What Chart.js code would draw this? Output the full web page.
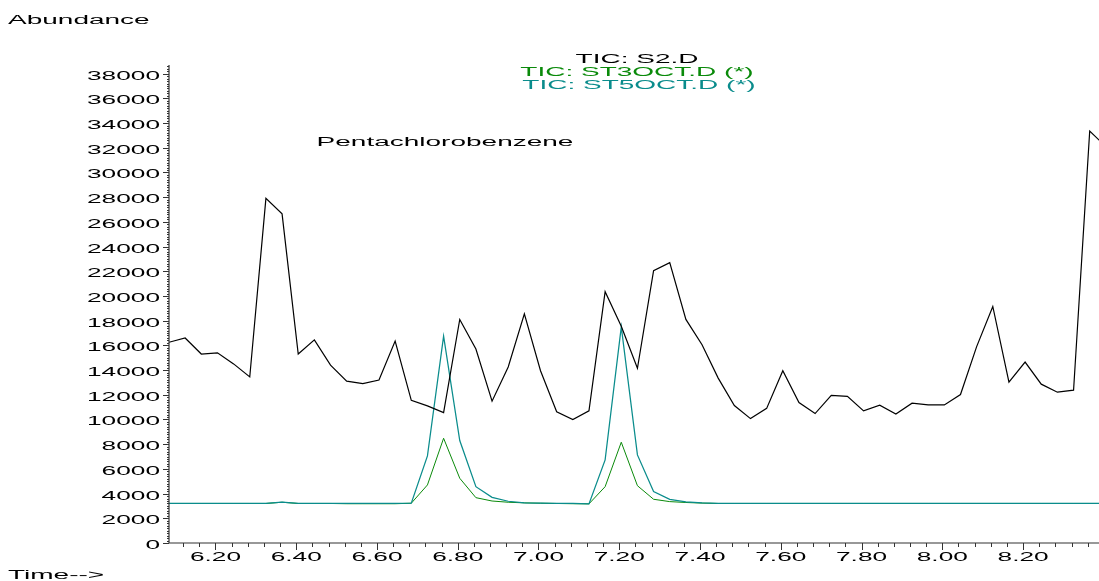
<!DOCTYPE html>
<html>
<head>
<meta charset="utf-8">
<script src="https://cdn.jsdelivr.net/npm/chart.js@4/dist/chart.umd.min.js"></script>
<style>
  html, body { margin: 0; padding: 0; background: #fff; }
  canvas { display: block; }
</style>
</head>
<body>
<canvas id="tic" width="1099" height="581"></canvas>
<script>
// retention time (min)
const times = [6.085, 6.125, 6.165, 6.205, 6.245, 6.285, 6.325, 6.365, 6.405, 6.445,
  6.485, 6.525, 6.565, 6.605, 6.645, 6.685, 6.725, 6.765, 6.805, 6.845,
  6.885, 6.925, 6.965, 7.005, 7.045, 7.085, 7.125, 7.165, 7.205, 7.245,
  7.285, 7.325, 7.365, 7.405, 7.445, 7.485, 7.525, 7.565, 7.605, 7.645,
  7.685, 7.725, 7.765, 7.805, 7.845, 7.885, 7.925, 7.965, 8.005, 8.045,
  8.085, 8.125, 8.165, 8.205, 8.245, 8.285, 8.325, 8.365, 8.405]

// TIC: S2.D
const ticS2 = [16250, 16600, 15300, 15400, 14500, 13450, 27900, 26650, 15300, 16450,
  14400, 13100, 12900, 13200, 16350, 11550, 11100, 10560, 18100, 15700,
  11480, 14250, 18550, 13950, 10620, 10000, 10700, 20350, 17550, 14150,
  22050, 22700, 18100, 16050, 13350, 11130, 10070, 10900, 13950, 11370,
  10480, 11950, 11870, 10700, 11160, 10450, 11320, 11180, 11180, 12020,
  15900, 19150, 13020, 14650, 12860, 12210, 12370, 33350, 32100]

// TIC: ST3OCT.D (*)
const ticST3 = [3200, 3200, 3200, 3200, 3200, 3200, 3200, 3300, 3200, 3200,
  3200, 3180, 3180, 3180, 3180, 3220, 4700, 8480, 5240, 3670,
  3400, 3300, 3250, 3220, 3200, 3180, 3170, 4560, 8160, 4640,
  3540, 3350, 3280, 3230, 3200, 3200, 3200, 3200, 3200, 3200,
  3200, 3200, 3200, 3200, 3200, 3200, 3200, 3200, 3200, 3200,
  3200, 3200, 3200, 3200, 3200, 3200, 3200, 3200, 3200]

// TIC: ST5OCT.D (*)
const ticST5 = [3200, 3200, 3200, 3200, 3200, 3200, 3200, 3300, 3200, 3200,
  3200, 3200, 3200, 3200, 3200, 3220, 7050, 16750, 8300, 4560,
  3700, 3380, 3250, 3220, 3200, 3200, 3170, 6730, 17500, 7130,
  4160, 3540, 3330, 3250, 3200, 3200, 3200, 3200, 3200, 3200,
  3200, 3200, 3200, 3200, 3200, 3200, 3200, 3200, 3200, 3200,
  3200, 3200, 3200, 3200, 3200, 3200, 3200, 3200, 3200]

const yTickLabels = ["0", "2000", "4000", "6000", "8000", "10000", "12000", "14000", "16000", "18000",
  "20000", "22000", "24000", "26000", "28000", "30000", "32000", "34000", "36000", "38000"]
const xTickLabels = ["6.20", "6.40", "6.60", "6.80", "7.00", "7.20", "7.40", "7.60", "7.80", "8.00", "8.20"]

const FONT = "12.5px 'Liberation Sans', Arial, sans-serif"
const SX = 2.24

// the original software draws wide, stretched letters
function wideText(ctx, s, x, y, align, color, sx) {
  ctx.save()
  ctx.translate(x, y)
  ctx.scale(sx || SX, 1)
  ctx.font = FONT
  ctx.fillStyle = color || "#000"
  ctx.textAlign = align
  ctx.textBaseline = "alphabetic"
  ctx.fillText(s, 0, 0)
  ctx.restore()
}

const axesPlugin = {
  id: "chemAxes",
  afterDraw(chart) {
    const ctx = chart.ctx
    const xs = chart.scales.x
    const ys = chart.scales.y
    const area = chart.chartArea

    ctx.save()
    ctx.strokeStyle = "#333"
    ctx.lineWidth = 1.2

    // axis lines
    ctx.beginPath()
    ctx.moveTo(area.left, area.top)
    ctx.lineTo(area.left, area.bottom)
    ctx.lineTo(area.right, area.bottom)
    ctx.stroke()

    // y ticks, minor every 200
    ctx.lineWidth = 1
    for (let v = 0; v <= ys.max; v += 200) {
      const py = Math.round(ys.getPixelForValue(v)) + 0.5
      const len = v % 2000 === 0 ? 6 : 2
      ctx.beginPath()
      ctx.moveTo(area.left - len, py)
      ctx.lineTo(area.left, py)
      ctx.stroke()
    }

    // x ticks, minor every 0.04
    for (let i = 0; ; i++) {
      const t = 6.08 + i * 0.04
      if (t > xs.max) break
      if (t < xs.min) continue
      const px = Math.round(xs.getPixelForValue(t)) + 0.5
      const major = Math.abs((t - 6.2) / 0.2 - Math.round((t - 6.2) / 0.2)) < 1e-6
      ctx.beginPath()
      ctx.moveTo(px, area.bottom)
      ctx.lineTo(px, area.bottom + (major ? 7 : 4))
      ctx.stroke()
    }
    ctx.restore()

    // tick labels
    yTickLabels.forEach((lab) => {
      const py = ys.getPixelForValue(Number(lab))
      wideText(ctx, lab, area.left - 9, py + 6, "right", "#000", 2.1)
    })
    xTickLabels.forEach((lab) => {
      const px = xs.getPixelForValue(Number(lab))
      wideText(ctx, lab, px, 560.5, "center", "#000", 2.1)
    })

    // titles and annotations
    wideText(ctx, "Abundance", 8, 24, "left")
    wideText(ctx, "Time-->", 8, 579, "left")
    wideText(ctx, "TIC: S2.D", 637, 62.5, "center", "#000")
    wideText(ctx, "TIC: ST3OCT.D (*)", 637, 75.5, "center", "#0a8a0a")
    wideText(ctx, "TIC: ST5OCT.D (*)", 639, 88.5, "center", "#0a8c8c")
    wideText(ctx, "Pentachlorobenzene", 445, 146, "center")
  }
}

const toPoints = (vals) => times.map((t, i) => ({ x: t, y: vals[i] }))

new Chart(document.getElementById("tic"), {
  type: "line",
  data: {
    datasets: [
      { label: "TIC: S2.D", data: toPoints(ticS2), borderColor: "#000", borderWidth: 1.2 },
      { label: "TIC: ST5OCT.D (*)", data: toPoints(ticST5), borderColor: "#0a8c8c", borderWidth: 1.25 },
      { label: "TIC: ST3OCT.D (*)", data: toPoints(ticST3), borderColor: "#0a8a0a", borderWidth: 1.0 },
    ],
  },
  options: {
    responsive: false,
    animation: false,
    layout: { padding: { left: 169, top: 65, right: 0, bottom: 38 } },
    elements: { point: { radius: 0 }, line: { tension: 0 } },
    plugins: { legend: { display: false }, tooltip: { enabled: false } },
    scales: {
      x: { type: "linear", min: 6.085, max: 8.388, display: false },
      y: { min: 0, max: 38700, display: false },
    },
  },
  plugins: [axesPlugin],
})
</script>
</body>
</html>
